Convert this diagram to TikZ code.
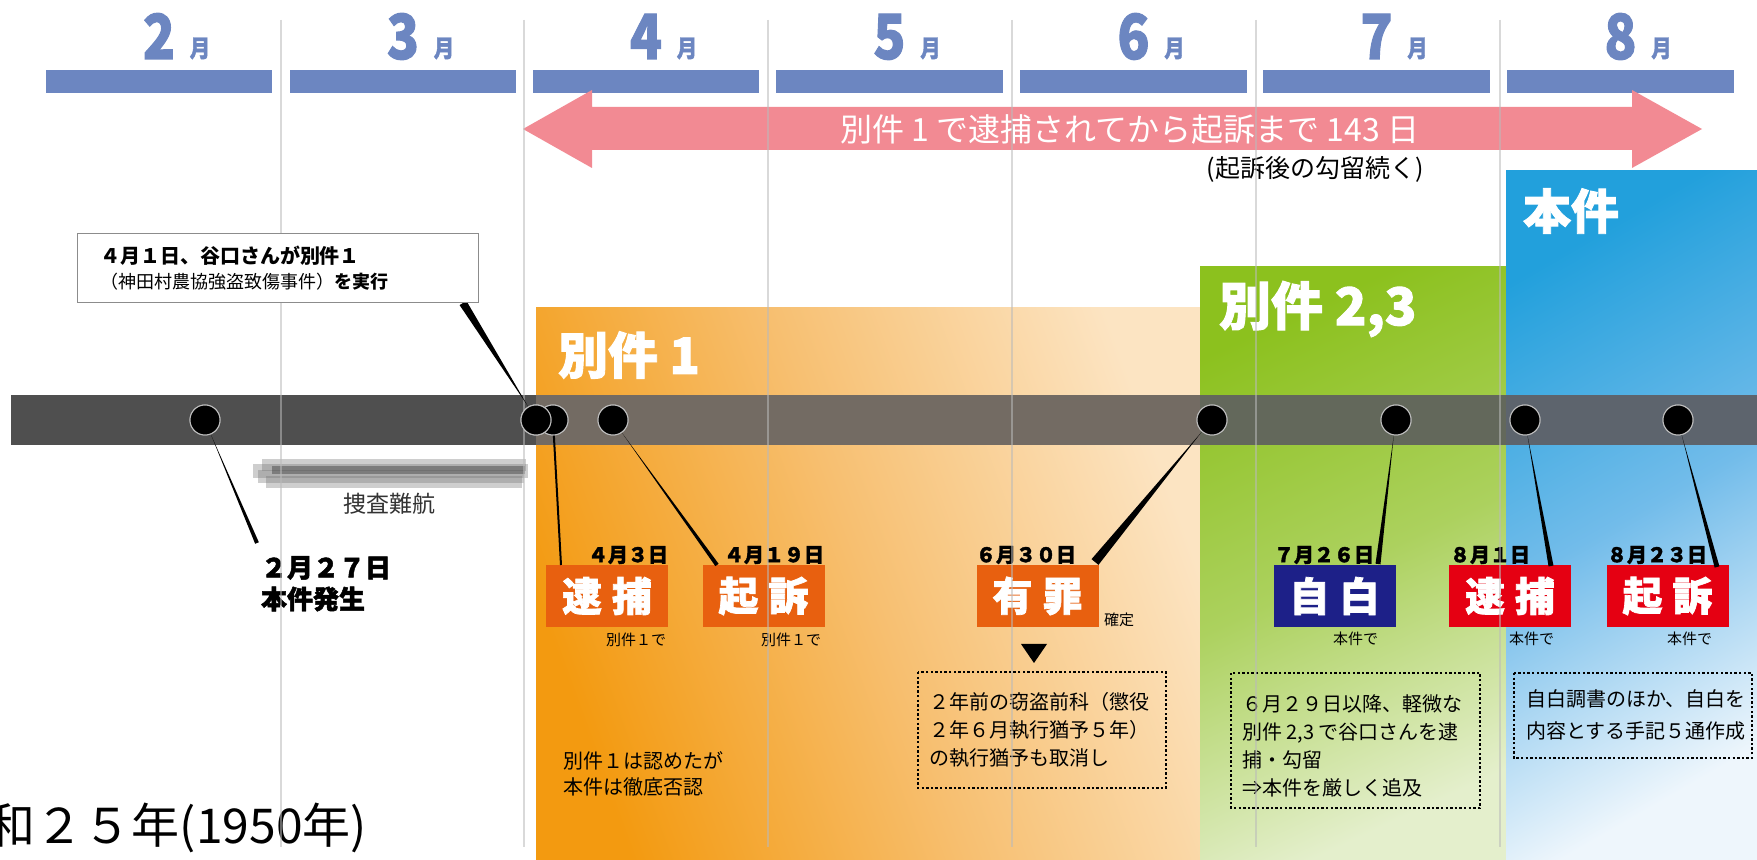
\documentclass[tikz,border=0pt]{standalone}
\usepackage{fontspec}
\setmainfont{Noto Sans CJK JP}
\newfontfamily\heavyfont{Noto Sans CJK JP}[BoldFeatures={FakeBold=1.8}]
\usetikzlibrary{calc}
\definecolor{mblue}{HTML}{6C86C1}
\definecolor{apink}{HTML}{F28A93}
\definecolor{bandw}{HTML}{4F4F4F}
\definecolor{bando}{HTML}{736B63}
\definecolor{bandg}{HTML}{63685B}
\definecolor{bandb}{HTML}{5D646D}
\definecolor{orA}{HTML}{F39A10}
\definecolor{orB}{HTML}{F7BF70}
\definecolor{orC}{HTML}{FCE4C2}
\definecolor{grA}{HTML}{8CC11E}
\definecolor{grB}{HTML}{ACD15E}
\definecolor{grC}{HTML}{E4EFCC}
\definecolor{blA}{HTML}{22A0DC}
\definecolor{blB}{HTML}{72BCEA}
\definecolor{blC}{HTML}{EEF6FC}
\definecolor{boxor}{HTML}{E8600F}
\definecolor{boxnv}{HTML}{1D2088}
\definecolor{boxrd}{HTML}{E50012}
\newcommand\fsz[1]{\fontsize{#1}{#1}\selectfont}
\newcommand\calloutwedge[3]{\fill[black] (#1) -- ($(#2)!#3!90:(#1)$) -- ($(#2)!#3!-90:(#1)$) -- cycle;}
\begin{document}
\begin{tikzpicture}[x=0.5pt,y=-0.5pt,
  lbl/.style={inner sep=0pt,outer sep=0pt},
  monthnum/.style={lbl,text=mblue,font=\fsz{31}\heavyfont\bfseries,anchor=base},
  monthtsuki/.style={lbl,text=mblue,font=\fsz{12}\heavyfont\bfseries,anchor=base},
  dot/.style={circle,fill=black,draw=black!25,line width=0.5pt,minimum size=15pt,inner sep=0pt},
  evbox/.style={lbl,minimum width=61pt,minimum height=31pt,text=white,font=\fsz{20}\heavyfont\bfseries},
  datelbl/.style={lbl,font=\fsz{10}\heavyfont\bfseries},
  smalllbl/.style={lbl,font=\fsz{7.5}},
  notetxt/.style={lbl,font=\fontsize{10}{14}\selectfont,align=left,anchor=north west},
  dotbox/.style={draw=black,line width=1.2pt,dash pattern=on 1.2pt off 1.1pt},
  paneltitle/.style={lbl,text=white,font=\fsz{25}\heavyfont\bfseries,anchor=west},
  mline/.style={draw=black!27,opacity=0.55,line width=0.75pt}]
\useasboundingbox (0,0) rectangle (1757,860);
\clip (0,0) rectangle (1757,860);
\fill[white] (0,0) rectangle (1757,860);

% coloured panels
\shade[top color=orA,bottom color=orC,middle color=orB,shading angle=110] (536,308) rectangle (1200,860);
\shade[top color=grA,bottom color=grC,middle color=grB,shading angle=25] (1200,267) rectangle (1506,860);
\shade[top color=blA,bottom color=blC,middle color=blB,shading angle=30] (1506,171) rectangle (1757,860);

% timeline band
\fill[bandw] (11,395) rectangle (536,445);
\fill[bando] (536,395) rectangle (1200,445);
\fill[bandg] (1200,395) rectangle (1506,445);
\fill[bandb] (1506,395) rectangle (1757,445);

% smudge (investigation stalled)
\fill[black!55,opacity=0.35] (262,459) rectangle (526,471);
\fill[black!55,opacity=0.35] (253,464) rectangle (528,478);
\fill[black!55,opacity=0.35] (258,470) rectangle (524,483);
\fill[black!55,opacity=0.35] (266,476) rectangle (522,488);
\fill[black!75,opacity=0.45] (272,466) rectangle (525,474);

% month bars and labels
\foreach \l/\r/\m in {46/272/2,290/516/3,533/759/4,776/1003/5,1020/1247/6,1263/1490/7,1507/1734/8}{
  \fill[mblue] (\l,70) rectangle (\r,93);
  \node[monthnum] (mn\m) at ({(\l+\r)/2},59) {\scalebox{0.85}[1]{\m}};
  \node[monthtsuki] (mt\m) at ({(\l+\r)/2+41},57) {\scalebox{0.85}[1]{月}};
}

% pink arrow
\fill[apink] (523,129) -- (592,90) -- (592,107) -- (1632,107) -- (1632,90) -- (1702,129)
  -- (1632,168) -- (1632,150) -- (592,150) -- (592,168) -- cycle;
\node[lbl,text=white,font=\fsz{16}] (arrowtxt) at (1130,129) {別件 1 で逮捕されてから起訴まで 143 日};
\node[lbl,font=\fsz{12.5}] (kouryu) at (1315,169) {(起訴後の勾留続く)};

% panel titles
\node[paneltitle] (t1) at (558,355) {別件 1};
\node[paneltitle,font=\fsz{26}\heavyfont\bfseries] (t23) at (1219,309) {別件 2,3};
\node[paneltitle,font=\fsz{24}\heavyfont\bfseries] (thon) at (1523,211) {本件};

% event circles
\node[dot] (c0227) at (205,420) {};
\node[dot] (c0403) at (553,420) {};
\node[dot] (c0401) at (536,420) {};
\node[dot] (c0419) at (613,420) {};
\node[dot] (c0630) at (1212,420) {};
\node[dot] (c0726) at (1396,420) {};
\node[dot] (c0801) at (1525,420) {};
\node[dot] (c0823) at (1678,420) {};

% event boxes
\node[evbox,fill=boxor] (b0403) at (607,596) {逮\hspace{5pt}捕};
\node[evbox,fill=boxor] (b0419) at (763.5,596) {起\hspace{5pt}訴};
\node[evbox,fill=boxor] (b0630) at (1037.5,596) {有\hspace{5pt}罪};
\node[evbox,fill=boxnv] (b0726) at (1334.5,596) {自\hspace{5pt}白};
\node[evbox,fill=boxrd] (b0801) at (1510,596) {逮\hspace{5pt}捕};
\node[evbox,fill=boxrd] (b0823) at (1667.5,596) {起\hspace{5pt}訴};

% dates
\node[datelbl,anchor=east] (d0403) at (668,555) {４月３日};
\node[datelbl,anchor=east] (d0419) at (824,555) {４月１９日};
\node[datelbl,anchor=west] (d0630) at (976,555) {６月３０日};
\node[datelbl,anchor=west] (d0726) at (1274,555) {７月２６日};
\node[datelbl,anchor=west] (d0801) at (1450,555) {８月１日};
\node[datelbl,anchor=west] (d0823) at (1607,555) {８月２３日};

% connector ends
\coordinate (e0227) at (257,543);
\coordinate (e0403) at (561,565);
\coordinate (e0419) at (717,565);
\coordinate (e0630) at (1095,562);
\coordinate (e0726) at (1378,564);
\coordinate (e0801) at (1551,566);
\coordinate (e0823) at (1717,567);

% 2/27 text
\node[lbl,anchor=west,font=\fsz{13}\heavyfont\bfseries] (t0227) at (261,568) {２月２７日};
\node[lbl,anchor=west,font=\fsz{13}\heavyfont\bfseries] (t0227b) at (261,599) {本件発生};
\node[lbl,font=\fsz{11.5},text=black!80] (sousa) at (389,504) {捜査難航};

% small labels
\node[smalllbl,anchor=east] (s0403) at (666,640) {別件１で};
\node[smalllbl,anchor=east] (s0419) at (821,640) {別件１で};
\node[smalllbl,anchor=west] (s0630) at (1104,620) {確定};
\node[smalllbl,anchor=east] (s0726) at (1378,639) {本件で};
\node[smalllbl,anchor=east] (s0801) at (1554,639) {本件で};
\node[smalllbl,anchor=east] (s0823) at (1712,639) {本件で};

% down triangle
\fill[black] (1021,644) -- (1047,644) -- (1034,663) -- cycle;

% notes
\draw[dotbox] (918,672) rectangle (1166,788);
\node[notetxt] (n1) at (929,692) {２年前の窃盗前科（懲役\\２年６月執行猶予５年）\\の執行猶予も取消し};
\draw[dotbox] (1231,673) rectangle (1480,808);
\node[notetxt] (n2) at (1242,695) {６月２９日以降、軽微な\\別件 2,3 で谷口さんを逮\\捕・勾留\\⇒本件を厳しく追及};
\draw[dotbox] (1514,673) rectangle (1752,758);
\node[notetxt,font=\fontsize{10}{16}\selectfont] (n3) at (1526,690) {自白調書のほか、自白を\\内容とする手記５通作成};
\node[notetxt,font=\fontsize{10}{13}\selectfont] (n4) at (563,752) {別件１は認めたが\\本件は徹底否認};

% year
\node[lbl,anchor=east,font=\fsz{24}] (year) at (367,828) {昭和２５年(1950年)};

% connectors
\calloutwedge{c0227}{e0227}{1pt}
\draw[line width=1pt] (c0403) -- (e0403);
\calloutwedge{c0419}{e0419}{1pt}
\calloutwedge{c0630}{e0630}{2.25pt}
\calloutwedge{c0726}{e0726}{1.25pt}
\calloutwedge{c0801}{e0801}{1.25pt}
\calloutwedge{c0823}{e0823}{1.25pt}
% redraw circles on top of connectors
\foreach \c in {c0227,c0403,c0401,c0419,c0630,c0726,c0801,c0823}{
  \fill[black] (\c) circle (7.5pt);
  \draw[black!25,line width=0.5pt] (\c) circle (7.5pt);
}

% month separator lines
\foreach \x in {281,524,768,1012,1256,1500}{
  \draw[mline] (\x,20) -- (\x,847);
}

% callout
\coordinate (cwtop) at (463,303);
\calloutwedge{c0401}{cwtop}{2pt}
\fill[black] (c0401) circle (7.5pt);
\draw[black!25,line width=0.5pt] (c0401) circle (7.5pt);
\node[draw=black!45,fill=white,line width=0.5pt,minimum width=200.5pt,minimum height=34.5pt,inner sep=0pt] (callout) at (277.5,268.5) {};
\node[lbl,anchor=west,font=\fsz{10}\bfseries] (co1) at (100,256) {４月１日、谷口さんが別件１};
\node[lbl,anchor=west,font=\fsz{9}] (co2) at (100,282) {（神田村農協強盗致傷事件）{\bfseries を実行}};
\end{tikzpicture}
\end{document}
